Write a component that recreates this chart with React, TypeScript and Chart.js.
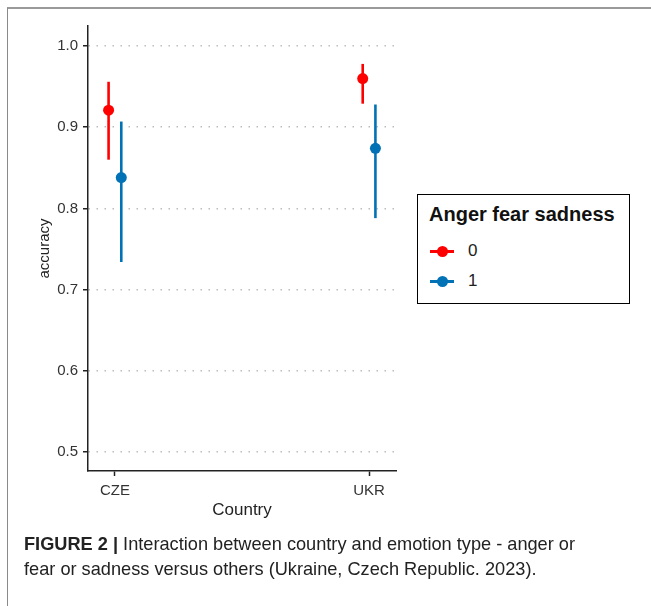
import React, { useEffect, useRef } from "react";
import { Chart, registerables } from "chart.js";

Chart.register(...registerables);

const categories = ["CZE", "UKR"];
const groups = ["0", "1"];
const groupColors = ["#FF0000", "#0072B5"];
const means = [
  [0.921, 0.960],
  [0.838, 0.874],
];
const lowers = [
  [0.860, 0.929],
  [0.734, 0.788],
];
const uppers = [
  [0.956, 0.978],
  [0.907, 0.928],
];
const yTicks = [0.5, 0.6, 0.7, 0.8, 0.9, 1.0];
const dodge = [-0.025, 0.025];

const FONT = "'Liberation Sans', Arial, Helvetica, sans-serif";

export default function App() {
  const ref = useRef<HTMLCanvasElement | null>(null);

  useEffect(() => {
    if (!ref.current) return;
    const datasets: any[] = [];
    groups.forEach((g, gi) => {
      categories.forEach((c, ci) => {
        datasets.push({
          label: `ci-${g}-${c}`,
          data: [
            { x: ci + 1 + dodge[gi], y: lowers[gi][ci] },
            { x: ci + 1 + dodge[gi], y: uppers[gi][ci] },
          ],
          showLine: true,
          borderColor: groupColors[gi],
          borderWidth: 2.6,
          pointRadius: 0,
          pointHoverRadius: 0,
        });
      });
    });
    groups.forEach((g, gi) => {
      datasets.push({
        label: g,
        data: categories.map((c, ci) => ({ x: ci + 1 + dodge[gi], y: means[gi][ci] })),
        pointRadius: 5.5,
        pointBackgroundColor: groupColors[gi],
        pointBorderWidth: 0,
        showLine: false,
      });
    });

    const chart = new Chart(ref.current, {
      type: "scatter",
      data: { datasets },
      options: {
        animation: false,
        responsive: false,
        layout: { padding: { left: 0, top: 26, right: 255, bottom: 0 } },
        plugins: { legend: { display: false }, tooltip: { enabled: false } },
        scales: {
          x: {
            type: "linear",
            min: 0.894,
            max: 2.106,
            afterFit: (s: any) => {
              s.height = 135;
            },
            afterBuildTicks: (s: any) => {
              s.ticks = categories.map((_, i) => ({ value: i + 1 }));
            },
            ticks: {
              callback: (v: any) => categories[Math.round(Number(v)) - 1] ?? "",
              color: "#333",
              font: { family: FONT, size: 15 },
              padding: 6,
              maxRotation: 0,
            },
            grid: {
              color: "rgba(0,0,0,0)",
              tickColor: "#222",
              tickLength: 5,
              tickWidth: 1.5,
            },
            border: { color: "#222", width: 1.5 },
            title: {
              display: true,
              text: "Country",
              color: "#222",
              font: { family: FONT, size: 17 },
              padding: { top: 0, bottom: 85 },
            },
          },
          y: {
            type: "linear",
            min: 0.4765,
            max: 1.0247,
            afterFit: (s: any) => {
              s.width = 88;
            },
            afterBuildTicks: (s: any) => {
              s.ticks = yTicks.map((v) => ({ value: v }));
            },
            ticks: {
              callback: (v: any) => Number(v).toFixed(1),
              color: "#333",
              font: { family: FONT, size: 15 },
              padding: 5,
            },
            grid: {
              color: "#bdbdbd",
              lineWidth: 1.5,
              tickColor: "#222",
              tickLength: 5,
              tickWidth: 1.5,
              tickBorderDash: [],
            },
            border: { color: "#222", width: 1.5, dash: [1.5, 6.5] },
            title: {
              display: true,
              text: "accuracy",
              color: "#222",
              font: { family: FONT, size: 15 },
              padding: { top: 36, bottom: 0 },
            },
          },
        },
      } as any,
    });
    return () => chart.destroy();
  }, []);

  return (
    <div style={{ position: "absolute", left: 0, top: 0, width: 651, height: 606, background: "#fff", overflow: "hidden", fontFamily: FONT }}>
      <div
        style={{
          position: "absolute",
          left: 7,
          top: 7,
          width: 644,
          height: 599,
          borderTop: "2px solid #9a9a9a",
          borderLeft: "1.5px solid #8a8a8a",
          boxSizing: "border-box",
        }}
      />
      <canvas ref={ref} width={651} height={606} style={{ position: "absolute", left: 0, top: 0, width: 651, height: 606 }} />
      <div
        style={{
          position: "absolute",
          left: 417,
          top: 194,
          width: 213,
          height: 110,
          border: "1.5px solid #000",
          boxSizing: "border-box",
          background: "#fff",
        }}
      >
        <div style={{ position: "absolute", left: 11, top: 8, fontWeight: "bold", fontSize: 20, color: "#111", whiteSpace: "nowrap" }}>
          Anger fear sadness
        </div>
        {groups.map((g, gi) => (
          <div key={g} style={{ position: "absolute", left: 0, top: 45 + gi * 30, height: 22, width: 200 }}>
            <div style={{ position: "absolute", left: 12, top: 10, width: 24, height: 2.5, background: groupColors[gi] }} />
            <div style={{ position: "absolute", left: 19, top: 5.5, width: 11, height: 11, borderRadius: "50%", background: groupColors[gi] }} />
            <div style={{ position: "absolute", left: 50, top: 1, fontSize: 17, color: "#222" }}>{g}</div>
          </div>
        ))}
      </div>
      <div
        style={{
          position: "absolute",
          left: 24,
          top: 532,
          width: 627,
          fontSize: 18.2,
          lineHeight: "25px",
          color: "#222",
          whiteSpace: "nowrap",
        }}
      >
        <b>FIGURE 2 |</b> Interaction between country and emotion type - anger or
        <br />
        fear or sadness versus others (Ukraine, Czech Republic. 2023).
      </div>
    </div>
  );
}
